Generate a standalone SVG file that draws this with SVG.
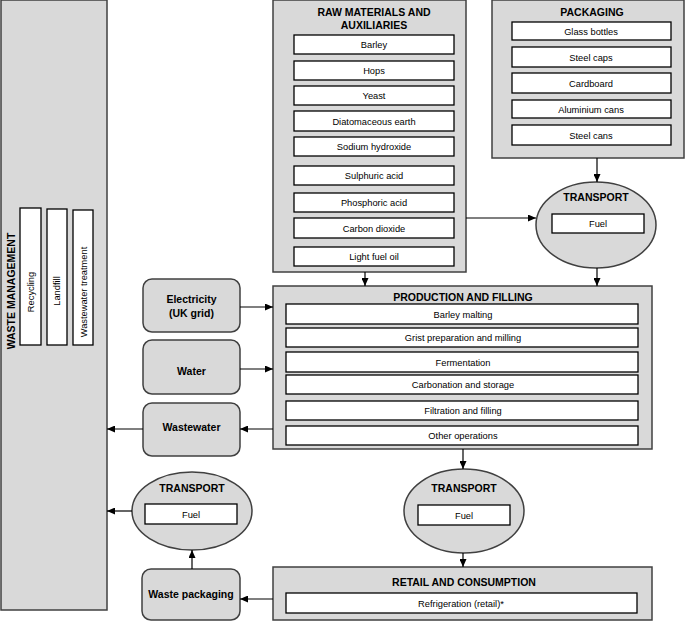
<svg xmlns="http://www.w3.org/2000/svg" width="685" height="624" viewBox="0 0 685 624">
<style>
.bg{fill:#d9d9d9;stroke:#404040;stroke-width:1.5}
.in{fill:#fff;stroke:#000;stroke-width:1.3}
.t{font-family:"Liberation Sans",Arial,sans-serif;font-size:9.3px;text-anchor:middle;fill:#000}
.h{font-family:"Liberation Sans",Arial,sans-serif;font-size:10.5px;font-weight:bold;text-anchor:middle;fill:#000}
.c{fill:none;stroke:#000;stroke-width:1.2}
</style>
<defs>
<marker id="ah" viewBox="0 0 8 7" refX="8" refY="3.5" markerWidth="8" markerHeight="7" markerUnits="userSpaceOnUse" orient="auto"><path d="M0,0 L8,3.5 L0,7 z" fill="#000"/></marker>
</defs>
<rect width="685" height="624" fill="#fff"/>

<g id="waste-management">
<rect class="bg" x="1" y="0" width="106" height="610"/>
<text class="h" transform="translate(15,291) rotate(-90)">WASTE MANAGEMENT</text>
<rect class="in" x="20" y="208" width="21" height="137"/>
<text class="t" transform="translate(33.5,292) rotate(-90)">Recycling</text>
<rect class="in" x="47" y="209" width="20" height="136"/>
<text class="t" transform="translate(60,291) rotate(-90)">Landfill</text>
<rect class="in" x="73" y="210" width="20" height="135"/>
<text class="t" transform="translate(86.5,292) rotate(-90)">Wastewater treatment</text>
</g>

<g id="raw-materials">
<rect class="bg" x="273" y="0" width="193" height="272"/>
<text class="h" x="374" y="16">RAW MATERIALS AND</text>
<text class="h" x="374" y="29">AUXILIARIES</text>
<rect class="in" x="294" y="35" width="160" height="19"/><text class="t" x="374" y="48">Barley</text>
<rect class="in" x="294" y="61" width="160" height="19"/><text class="t" x="374" y="74">Hops</text>
<rect class="in" x="294" y="86" width="160" height="19"/><text class="t" x="374" y="99">Yeast</text>
<rect class="in" x="294" y="111" width="160" height="20"/><text class="t" x="374" y="124.5">Diatomaceous earth</text>
<rect class="in" x="294" y="137" width="160" height="19"/><text class="t" x="374" y="150">Sodium hydroxide</text>
<rect class="in" x="294" y="166" width="160" height="19"/><text class="t" x="374" y="179">Sulphuric acid</text>
<rect class="in" x="294" y="193" width="160" height="19"/><text class="t" x="374" y="206">Phosphoric acid</text>
<rect class="in" x="294" y="218" width="160" height="20"/><text class="t" x="374" y="231.5">Carbon dioxide</text>
<rect class="in" x="294" y="247" width="160" height="19"/><text class="t" x="374" y="260">Light fuel oil</text>
</g>

<g id="packaging">
<rect class="bg" x="492" y="0" width="192" height="158"/>
<text class="h" x="592" y="16">PACKAGING</text>
<rect class="in" x="512" y="22" width="159" height="18"/><text class="t" x="591" y="34.5">Glass bottles</text>
<rect class="in" x="512" y="47" width="159" height="20"/><text class="t" x="591" y="60.5">Steel caps</text>
<rect class="in" x="512" y="73" width="159" height="20"/><text class="t" x="591" y="86.5">Cardboard</text>
<rect class="in" x="512" y="100" width="159" height="18"/><text class="t" x="591" y="112.5">Aluminium cans</text>
<rect class="in" x="512" y="125" width="159" height="20"/><text class="t" x="591" y="138.5">Steel cans</text>
</g>

<g id="transport-packaging">
<ellipse class="bg" cx="596" cy="225" rx="60" ry="43"/>
<text class="h" x="596" y="201">TRANSPORT</text>
<rect class="in" x="552" y="214" width="92" height="19"/><text class="t" x="598" y="227">Fuel</text>
</g>

<g id="electricity">
<rect class="bg" x="143" y="279" width="97" height="53" rx="9"/>
<text class="h" x="191.5" y="303">Electricity</text>
<text class="h" x="191.5" y="317">(UK grid)</text>
</g>

<g id="water">
<rect class="bg" x="143" y="340" width="97" height="54" rx="9"/>
<text class="h" x="191.5" y="375">Water</text>
</g>

<g id="wastewater">
<rect class="bg" x="143" y="403" width="97" height="53" rx="9"/>
<text class="h" x="191.5" y="431">Wastewater</text>
</g>

<g id="production">
<rect class="bg" x="273" y="286" width="379" height="163"/>
<text class="h" x="463" y="301">PRODUCTION AND FILLING</text>
<rect class="in" x="286" y="304" width="352" height="20"/><text class="t" x="463" y="317.5">Barley malting</text>
<rect class="in" x="286" y="328" width="352" height="19"/><text class="t" x="463" y="341">Grist preparation and milling</text>
<rect class="in" x="286" y="352" width="352" height="20"/><text class="t" x="463" y="365.5">Fermentation</text>
<rect class="in" x="286" y="375" width="352" height="19"/><text class="t" x="463" y="388">Carbonation and storage</text>
<rect class="in" x="286" y="401" width="352" height="19"/><text class="t" x="463" y="414">Filtration and filling</text>
<rect class="in" x="286" y="426" width="352" height="19"/><text class="t" x="463" y="439">Other operations</text>
</g>

<g id="transport-distribution">
<ellipse class="bg" cx="464" cy="511" rx="60" ry="42"/>
<text class="h" x="464" y="492">TRANSPORT</text>
<rect class="in" x="418" y="505" width="92" height="20"/><text class="t" x="464" y="518.5">Fuel</text>
</g>

<g id="retail">
<rect class="bg" x="273" y="567" width="379" height="53"/>
<text class="h" x="464" y="585.5">RETAIL AND CONSUMPTION</text>
<rect class="in" x="286" y="593" width="351" height="20"/><text class="t" x="461" y="606.5">Refrigeration (retail)*</text>
</g>

<g id="transport-waste">
<ellipse class="bg" cx="192" cy="511" rx="60" ry="39"/>
<text class="h" x="192" y="492">TRANSPORT</text>
<rect class="in" x="145" y="504" width="92" height="20"/><text class="t" x="191" y="517.5">Fuel</text>
</g>

<g id="waste-packaging">
<rect class="bg" x="142" y="569" width="98" height="51" rx="9"/>
<text class="h" x="191" y="598">Waste packaging</text>
</g>

<g id="connectors">
<path class="c" d="M466,218 H536" marker-end="url(#ah)"/>
<path class="c" d="M597,158 V182" marker-end="url(#ah)"/>
<path class="c" d="M597,268 V286" marker-end="url(#ah)"/>
<path class="c" d="M365,272 V286" marker-end="url(#ah)"/>
<path class="c" d="M240,307 H273" marker-end="url(#ah)"/>
<path class="c" d="M240,369 H273" marker-end="url(#ah)"/>
<path class="c" d="M273,429 H240" marker-end="url(#ah)"/>
<path class="c" d="M143,429 H107" marker-end="url(#ah)"/>
<path class="c" d="M463,449 V469" marker-end="url(#ah)"/>
<path class="c" d="M463,553 V567" marker-end="url(#ah)"/>
<path class="c" d="M273,599 H240" marker-end="url(#ah)"/>
<path class="c" d="M192,569 V550" marker-end="url(#ah)"/>
<path class="c" d="M132,511 H107" marker-end="url(#ah)"/>
</g>
</svg>
